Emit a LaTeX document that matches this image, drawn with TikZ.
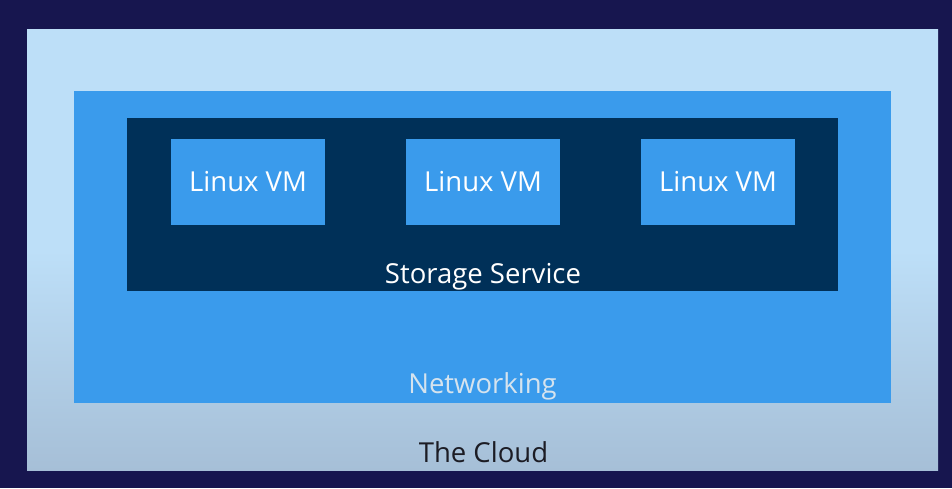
\documentclass[tikz,border=0pt]{standalone}
\usepackage{fontspec}
\setmainfont{Open Sans}
\definecolor{bgnavy}{HTML}{17164F}
\definecolor{cloudtop}{HTML}{BDDFF8}
\definecolor{cloudbot}{HTML}{A6BFD7}
\definecolor{netblue}{HTML}{3A9BEC}
\definecolor{storenavy}{HTML}{003058}
\definecolor{netlabel}{HTML}{D5E3EE}
\definecolor{cloudlabel}{HTML}{1C1C24}
\tikzset{
  box/.style={rectangle, draw=none, inner sep=0pt, outer sep=0pt},
  lbl/.style={anchor=base, inner sep=0pt, font=\fontsize{27.5}{33}\selectfont},
}
\begin{document}
\begin{tikzpicture}[x=1pt,y=-1pt]
\fill[bgnavy] (0,0) rectangle (952,488);
\useasboundingbox (0,0) rectangle (952,488);
\node[box, top color=cloudtop, bottom color=cloudbot, middle color=cloudtop, minimum width=911pt, minimum height=441pt] (cloud) at (482.5,250){};
\node[box, fill=netblue, minimum width=817.5pt, minimum height=312pt] (net) at (482.25,246.5){};
\node[box, fill=storenavy, minimum width=711pt, minimum height=173pt] (store) at (482.5,204.5){};
\node[box, fill=netblue, minimum width=154pt, minimum height=86.5pt] (vm1) at (248,181.75){};
\node[box, fill=netblue, minimum width=154pt, minimum height=86.5pt] (vm2) at (483,181.75){};
\node[box, fill=netblue, minimum width=154pt, minimum height=86.5pt] (vm3) at (718,181.75){};
\node[lbl, white] (vm1txt) at (248,191){Linux VM};
\node[lbl, white] (vm2txt) at (483,191){Linux VM};
\node[lbl, white] (vm3txt) at (718,191){Linux VM};
\node[lbl, white] (storetxt) at (483,283){Storage Service};
\node[lbl, netlabel] (nettxt) at (482.5,393){Networking};
\node[lbl, cloudlabel] (cloudtxt) at (483.5,462){The Cloud};
\end{tikzpicture}
\end{document}
